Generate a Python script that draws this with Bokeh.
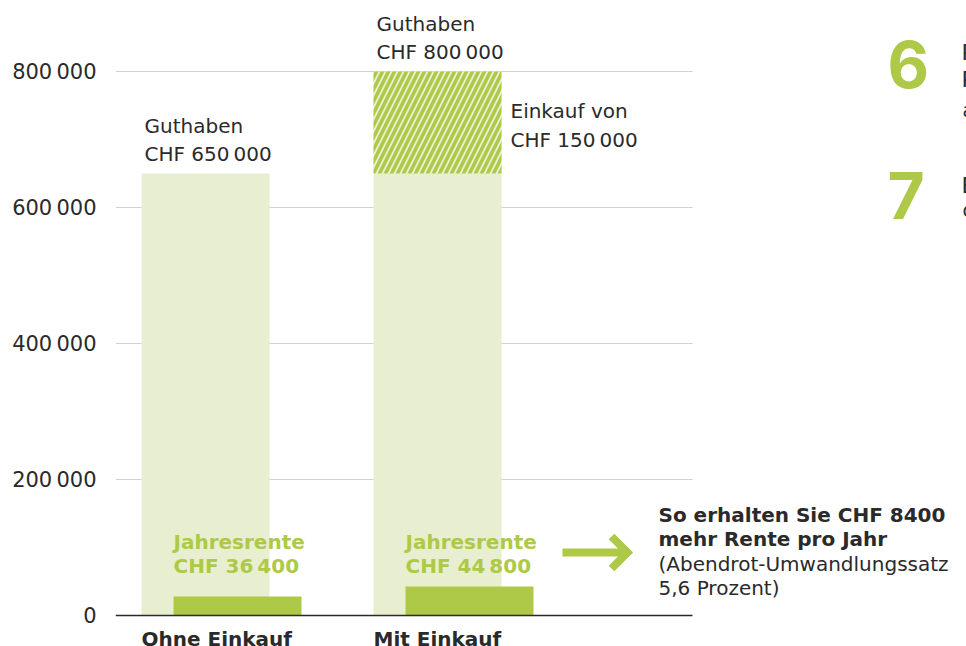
from bokeh.plotting import figure
from bokeh.models import FixedTicker
from bokeh.core.properties import value
from bokeh.embed import file_html
from bokeh.resources import INLINE

# ---------------- data ----------------
categories = ["Ohne Einkauf", "Mit Einkauf"]
guthaben = [650000, 800000]          # CHF
einkauf = [0, 150000]                # CHF purchase (hatched part)
rente = [36400, 44800]               # CHF per year
rente_bar_height = [28000, 42600]    # drawn heights of the small bars
y_ticks = [0, 200000, 400000, 600000, 800000]
y_tick_labels = ["0", "200\u2009000", "400\u2009000", "600\u2009000", "800\u2009000"]
guthaben_labels = ["Guthaben\nCHF 650\u2009000", "Guthaben\nCHF 800\u2009000"]
einkauf_label = "Einkauf von\nCHF 150\u2009000"
rente_labels = ["Jahresrente\nCHF 36\u2009400", "Jahresrente\nCHF 44\u2009800"]
summary_bold = ["So erhalten Sie CHF 8400", "mehr Rente pro Jahr"]
summary_note = ["(Abendrot-Umwandlungssatz", "5,6 Prozent)"]
side_numbers = ["6", "7"]
side_fragments_bold = ["Pensionierung", "Planen", "Beratung"]
side_fragments_norm = ["am", "oder"]

# ---------------- layout / style ----------------
W, H = 966, 646
FRAME_L = 115
X0_PX, PX_PER_CAT = 205, 232
Y0_PX, PX_PER_UNIT = 615, 544 / 800000
BASE_FIX = 0.37   # empirical shift of the alphabetic baseline in the svg output (em)


def px2x(px):
    return (px - X0_PX) / PX_PER_CAT


def px2y(py):
    return (Y0_PX - py) / PX_PER_UNIT


def base_y(py, size):
    return px2y(py - BASE_FIX * size)


LIGHT = "#e8efd0"
GREEN = "#adc947"
DARK = "#2a2a2a"
FONT = value("DejaVu Sans")
NUM_FONT = value("Inter")
FS = 20
BAR_W = 128 / PX_PER_CAT
SMALL_SHIFT = 32 / PX_PER_CAT

p = figure(width=W, height=H,
           x_range=(px2x(FRAME_L), px2x(W)),
           y_range=(px2y(H), px2y(0)),
           x_axis_location=None,
           min_border_left=FRAME_L, min_border_right=0,
           min_border_top=0, min_border_bottom=0,
           output_backend="svg", toolbar_location=None)
p.outline_line_color = None
p.xgrid.visible = False
p.ygrid.visible = False
p.background_fill_color = "white"
p.border_fill_color = "white"

ax = p.yaxis[0]
ax.ticker = FixedTicker(ticks=y_ticks)
ax.major_label_overrides = dict(zip(y_ticks, y_tick_labels))
ax.axis_line_color = None
ax.major_tick_line_color = None
ax.minor_tick_line_color = None
ax.major_label_standoff = 13
ax.major_label_text_font = "DejaVu Sans"
ax.major_label_text_font_size = "21px"
ax.major_label_text_color = DARK

idx = list(range(len(categories)))
grid_x0 = px2x(FRAME_L)
grid_x1 = px2x(692)

# gridlines (behind bars)
p.segment(x0=[grid_x0] * (len(y_ticks) - 1), x1=[grid_x1] * (len(y_ticks) - 1),
          y0=y_ticks[1:], y1=y_ticks[1:], line_color="#d2d2d2", line_width=1.2)

# Guthaben bars
base_top = [g - e for g, e in zip(guthaben, einkauf)]
p.vbar(x=idx, width=BAR_W, bottom=0, top=base_top, fill_color=LIGHT, line_color=None)
hx = [i for i, e in zip(idx, einkauf) if e > 0]
hb = [g - e for g, e in zip(guthaben, einkauf) if e > 0]
ht = [g for g, e in zip(guthaben, einkauf) if e > 0]
p.vbar(x=hx, width=BAR_W, bottom=hb, top=ht, fill_color=LIGHT, line_color=None,
       hatch_pattern="right_diagonal_line", hatch_color=GREEN, hatch_scale=12, hatch_weight=3.5)

# Jahresrente bars
p.vbar(x=[i + SMALL_SHIFT for i in idx], width=BAR_W, bottom=0, top=rente_bar_height,
       fill_color=GREEN, line_color=None)

# baseline
p.segment(x0=[grid_x0], x1=[grid_x1], y0=[0], y1=[0], line_color=DARK, line_width=1.6)

# Guthaben labels
p.text(x=[i - BAR_W / 2 for i in idx], y=guthaben, text=guthaben_labels,
       x_offset=3, y_offset=-7, text_align="left", text_baseline="bottom",
       text_font=FONT, text_font_size=f"{FS}px", text_color=DARK, text_line_height=1.17)

# Einkauf label
ei = hx[0]
p.text(x=[ei + BAR_W / 2], y=[guthaben[ei] - einkauf[ei] / 2], text=[einkauf_label],
       x_offset=9, y_offset=3, text_align="left", text_baseline="middle",
       text_font=FONT, text_font_size=f"{FS}px", text_color=DARK, text_line_height=1.22)

# Jahresrente labels
p.text(x=[i + SMALL_SHIFT - BAR_W / 2 for i in idx], y=[px2y(578)] * len(idx), text=rente_labels,
       x_offset=0, text_align="left", text_baseline="bottom",
       text_font=FONT, text_font_size=f"{FS}px", text_font_style="bold",
       text_color=GREEN, text_line_height=1.03)

# category labels
p.text(x=[i - BAR_W / 2 for i in idx], y=[0] * len(idx), text=categories,
       x_offset=0, y_offset=11, text_align="left", text_baseline="top",
       text_font=FONT, text_font_size=f"{FS}px", text_font_style="bold", text_color=DARK)

# arrow
ay = px2y(552)
p.line(x=[px2x(562), px2x(624)], y=[ay, ay], line_color=GREEN, line_width=8, line_cap="butt")
p.line(x=[px2x(611), px2x(627), px2x(611)], y=[px2y(536), ay, px2y(568)],
       line_color=GREEN, line_width=8, line_join="miter", line_cap="butt")

# summary text
sx = px2x(658)
p.text(x=[sx] * 2, y=[base_y(522, FS), base_y(546, FS)], text=summary_bold,
       text_align="left", text_baseline="alphabetic",
       text_font=FONT, text_font_size=f"{FS}px", text_font_style="bold", text_color=DARK)
p.text(x=[sx] * 2, y=[base_y(571, FS), base_y(595, FS)], text=summary_note,
       text_align="left", text_baseline="alphabetic",
       text_font=FONT, text_font_size=f"{FS}px", text_color=DARK)

# right-hand side numbers (cut off page content)
p.text(x=[px2x(887)] * 2, y=[base_y(88, 64), base_y(219, 64)], text=side_numbers,
       text_align="left", text_baseline="alphabetic",
       text_font=NUM_FONT, text_font_size="64px", text_font_style="bold", text_color=GREEN)
p.text(x=[px2x(961)] * 3, y=[base_y(60, 22), base_y(87, 22), base_y(193, 22)], text=side_fragments_bold,
       text_align="left", text_baseline="alphabetic",
       text_font=FONT, text_font_size="22px", text_color=DARK)
p.text(x=[px2x(962)] * 2, y=[base_y(117, 19), base_y(217, 19)], text=side_fragments_norm,
       text_align="left", text_baseline="alphabetic",
       text_font=FONT, text_font_size="19px", text_color=DARK)

open("out.html", "w").write(file_html(p, INLINE))
